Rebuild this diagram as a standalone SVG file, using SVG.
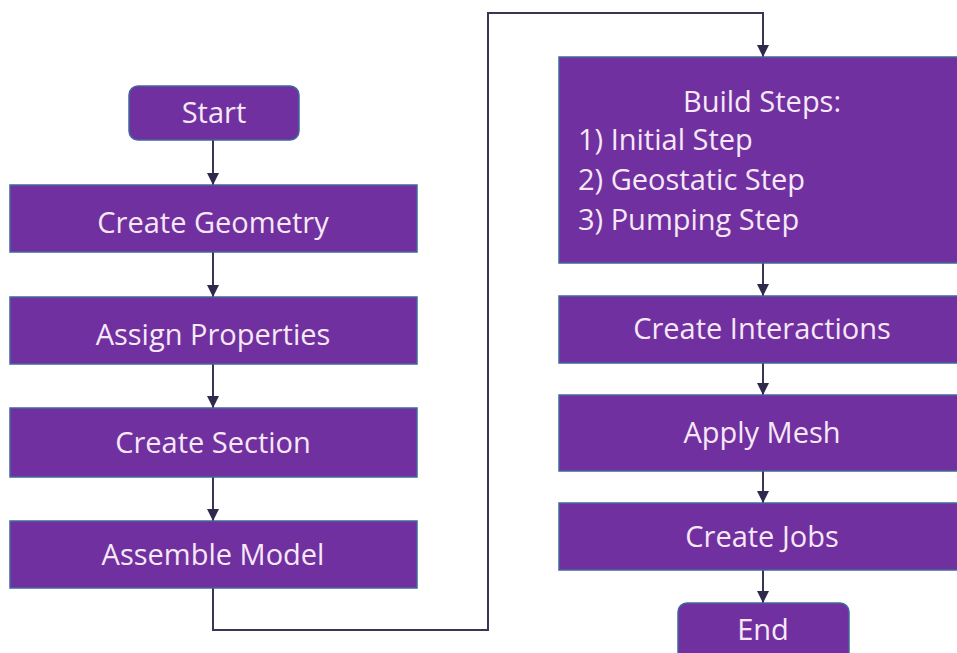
<svg xmlns="http://www.w3.org/2000/svg" width="957" height="653" viewBox="0 0 957 653">
<defs>
<marker id="ah" viewBox="0 0 12 12" refX="12" refY="6" markerWidth="12" markerHeight="12" markerUnits="userSpaceOnUse" orient="auto">
<path d="M0,0 L12,6 L0,12 Z" fill="#2f2a4c"/>
</marker>
<style>
.box{fill:#7030a0;stroke:#41679c;stroke-width:1.5}
.t{font-family:"Open Sans","Noto Sans",sans-serif;font-size:29px;fill:#f6e8f6;text-anchor:middle}
.tl{font-family:"Open Sans","Noto Sans",sans-serif;font-size:29px;fill:#f6e8f6}
.c{fill:none;stroke:#3a3455;stroke-width:2;marker-end:url(#ah)}
</style>
</defs>
<rect width="957" height="653" fill="#ffffff"/>
<g id="connectors">
<path class="c" d="M213,140 V185"/>
<path class="c" d="M213,252 V297"/>
<path class="c" d="M213,364 V408"/>
<path class="c" d="M213,477 V521"/>
<path class="c" d="M213,588 V630 H488 V13 H763 V57"/>
<path class="c" d="M763,263 V296"/>
<path class="c" d="M763,363 V395"/>
<path class="c" d="M763,471 V503"/>
<path class="c" d="M763,570 V603"/>
</g>
<g id="start"><rect class="box" x="129" y="86" width="170" height="54" rx="9"/><text class="t" x="214" y="123">Start</text></g>
<g id="create-geometry"><rect class="box" x="10" y="185" width="407" height="67"/><text class="t" x="213" y="233">Create Geometry</text></g>
<g id="assign-properties"><rect class="box" x="10" y="297" width="407" height="67"/><text class="t" x="213" y="345">Assign Properties</text></g>
<g id="create-section"><rect class="box" x="10" y="408" width="407" height="69"/><text class="t" x="213" y="453">Create Section</text></g>
<g id="assemble-model"><rect class="box" x="10" y="521" width="407" height="67"/><text class="t" x="213" y="565">Assemble Model</text></g>
<g id="build-steps"><rect class="box" x="559" y="57" width="400" height="206"/>
<text class="t" x="762" y="112">Build Steps:</text>
<text class="tl" x="578" y="150">1) Initial Step</text>
<text class="tl" x="578" y="190">2) Geostatic Step</text>
<text class="tl" x="578" y="230">3) Pumping Step</text></g>
<g id="create-interactions"><rect class="box" x="559" y="296" width="400" height="67"/><text class="t" x="762" y="339">Create Interactions</text></g>
<g id="apply-mesh"><rect class="box" x="559" y="395" width="400" height="76"/><text class="t" x="762" y="443">Apply Mesh</text></g>
<g id="create-jobs"><rect class="box" x="559" y="503" width="400" height="67"/><text class="t" x="762" y="547">Create Jobs</text></g>
<g id="end"><rect class="box" x="678" y="603" width="171" height="60" rx="9"/><text class="t" x="763" y="640">End</text></g>
</svg>
